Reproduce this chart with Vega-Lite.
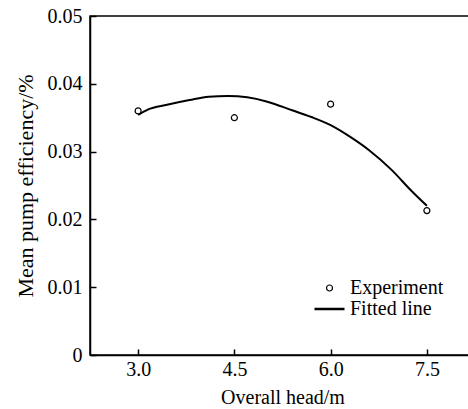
{
  "$schema": "https://vega.github.io/schema/vega-lite/v6.json",
  "autosize": "none",
  "width": 385,
  "height": 339,
  "padding": {"left": 90, "top": 16, "right": 0, "bottom": 54},
  "background": "white",
  "config": {
    "font": "Liberation Serif",
    "view": {"stroke": "black", "strokeWidth": 1.5},
    "axis": {
      "domainColor": "black", "domainWidth": 1.5, "tickColor": "black", "tickWidth": 1.5,
      "labelFont": "Liberation Serif", "labelFontSize": 20, "labelColor": "black",
      "titleFont": "Liberation Serif", "titleFontSize": 20, "titleFontWeight": "normal", "titleColor": "black",
      "grid": false
    },
    "legend": {"labelFont": "Liberation Serif", "labelFontSize": 20, "labelColor": "black"}
  },
  "data": {
    "values": [
      {"series": "Experiment", "head": 3.0, "eff": 0.0360},
      {"series": "Experiment", "head": 4.5, "eff": 0.0350},
      {"series": "Experiment", "head": 6.0, "eff": 0.0370},
      {"series": "Experiment", "head": 7.5, "eff": 0.0213},
      {"series": "Fitted line", "head": 3.0, "eff": 0.0354},
      {"series": "Fitted line", "head": 3.15, "eff": 0.0362},
      {"series": "Fitted line", "head": 3.45, "eff": 0.0369},
      {"series": "Fitted line", "head": 3.8, "eff": 0.0376},
      {"series": "Fitted line", "head": 4.1, "eff": 0.0381},
      {"series": "Fitted line", "head": 4.4, "eff": 0.0382},
      {"series": "Fitted line", "head": 4.7, "eff": 0.0380},
      {"series": "Fitted line", "head": 5.0, "eff": 0.0374},
      {"series": "Fitted line", "head": 5.4, "eff": 0.0361},
      {"series": "Fitted line", "head": 5.7, "eff": 0.0351},
      {"series": "Fitted line", "head": 6.0, "eff": 0.0339},
      {"series": "Fitted line", "head": 6.3, "eff": 0.0322},
      {"series": "Fitted line", "head": 6.6, "eff": 0.0302},
      {"series": "Fitted line", "head": 6.95, "eff": 0.0273},
      {"series": "Fitted line", "head": 7.25, "eff": 0.0243},
      {"series": "Fitted line", "head": 7.5, "eff": 0.0220}
    ]
  },
  "encoding": {
    "x": {
      "field": "head", "type": "quantitative",
      "scale": {"domain": [2.25, 8.25], "nice": false, "zero": false},
      "axis": {"title": "Overall head/m", "values": [3.0, 4.5, 6.0, 7.5], "format": ".1f", "tickSize": -6, "labelPadding": 10, "titlePadding": 8}
    },
    "y": {
      "field": "eff", "type": "quantitative",
      "scale": {"domain": [0, 0.05], "nice": false},
      "axis": {"title": "Mean pump efficiency/%", "titleFontSize": 22, "values": [0, 0.01, 0.02, 0.03, 0.04, 0.05], "labelExpr": "datum.value === 0 ? '0' : format(datum.value, '.2f')", "tickSize": -6, "labelPadding": 14, "titlePadding": 10}
    }
  },
  "layer": [
    {
      "transform": [{"filter": "datum.series === 'Fitted line'"}],
      "mark": {"type": "line", "color": "black", "strokeWidth": 2, "interpolate": "monotone"}
    },
    {
      "transform": [{"filter": "datum.series === 'Experiment'"}],
      "mark": {"type": "point", "filled": false, "color": "black", "opacity": 1},
      "encoding": {
        "shape": {
          "field": "series", "type": "nominal",
          "scale": {"domain": ["Experiment", "Fitted line"], "range": ["circle", "stroke"]},
          "legend": {
            "title": null, "orient": "none", "legendX": 223, "legendY": 262,
            "padding": 0, "symbolStrokeColor": "black", "symbolFillColor": "transparent",
            "labelOffset": 4, "rowPadding": 1, "clipHeight": 20
          }
        },
        "size": {
          "field": "series", "type": "nominal",
          "scale": {"domain": ["Experiment", "Fitted line"], "range": [36, 900]},
          "legend": {
            "title": null, "orient": "none", "legendX": 223, "legendY": 262,
            "padding": 0, "symbolStrokeColor": "black", "symbolFillColor": "transparent",
            "labelOffset": 4, "rowPadding": 1, "clipHeight": 20
          }
        },
        "strokeWidth": {
          "field": "series", "type": "nominal",
          "scale": {"domain": ["Experiment", "Fitted line"], "range": [1.2, 2.5]},
          "legend": {
            "title": null, "orient": "none", "legendX": 223, "legendY": 262,
            "padding": 0, "symbolStrokeColor": "black", "symbolFillColor": "transparent",
            "labelOffset": 4, "rowPadding": 1, "clipHeight": 20
          }
        }
      }
    }
  ]
}
